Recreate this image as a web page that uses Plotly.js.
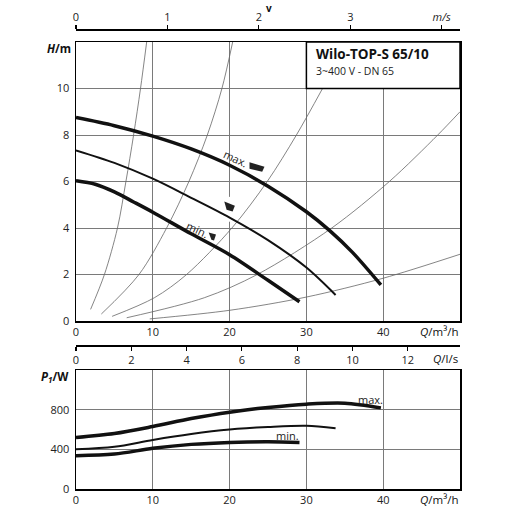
<!DOCTYPE html>
<html>
<head>
<meta charset="utf-8">
<script src="https://cdn.plot.ly/plotly-3.0.1.min.js"></script>
<style>html,body{margin:0;padding:0;background:#fff;}#chart{width:508px;height:508px;}</style>
</head>
<body>
<div id="chart"></div>
<script>
// ---- Pump curves H(Q) ----
const qMax = [0, 5, 10, 15, 20, 25, 30, 33, 36, 39.7];
const hMax = [8.75, 8.4, 7.95, 7.4, 6.7, 5.8, 4.7, 3.9, 2.95, 1.55];
const qMid = [0, 5, 10, 15, 20, 25, 30, 33.8];
const hMid = [7.34, 6.8, 6.12, 5.3, 4.45, 3.48, 2.3, 1.12];
const qMin = [0, 2.5, 5, 7.5, 10, 15, 20, 25, 29.1];
const hMin = [6.03, 5.88, 5.55, 5.12, 4.68, 3.75, 2.85, 1.75, 0.83];

// ---- System curves (thin) ----
const qSys1 = [1.9, 3.7, 5.4, 6.5, 7.5, 8.4, 9.2];
const hSys1 = [0.5, 2, 4, 6, 8, 10, 12];
const qSys2 = [3.3, 8.2, 11.8, 14.7, 17.1, 19.0, 20.4];
const hSys2 = [0.3, 2, 4, 6, 8, 10, 12];
const qSys3 = [4.7, 10.2, 14.4, 20.3, 24.9, 28.7, 32.1];
const hSys3 = [0.2, 1, 2, 4, 6, 8, 10];
const qSys4 = [6.6, 16.7, 23.6, 33.3, 40.8, 47.1, 50];
const hSys4 = [0.14, 1, 2, 4, 6, 8, 9.0];
const qSys5 = [9.6, 20, 30, 40, 50];
const hSys5 = [0.09, 0.46, 1.03, 1.84, 2.87];

// ---- Power curves P1(Q) ----
const qPMax = [0, 5, 10, 15, 20, 25, 30, 35, 39.7];
const pMax = [520, 560, 630, 710, 775, 822, 855, 865, 818];
const qPMid = [0, 5, 10, 15, 20, 25, 30, 33.8];
const pMid = [400, 425, 495, 555, 600, 625, 638, 612];
const qPMin = [0, 5, 10, 15, 20, 25, 29.1];
const pMin = [335, 352, 410, 450, 470, 476, 470];

// ---- Tick labels ----
const qTicks = [0, 10, 20, 30, 40];
const hTicks = [0, 2, 4, 6, 8, 10];
const pTicks = [0, 400, 800];
const vTicks = [0, 1, 2, 3, 4];
const vTickText = ['0', '1', '2', '3', '<i>m/s</i>'];
const lsTicks = [0, 2, 4, 6, 8, 10, 12];

// ---- Speed setting marker anchors ----
const markQ = [23.5, 20.0, 17.8];
const markH = [6.6, 4.9, 3.62];

const FONT = 'Open Sans, Noto Sans, sans-serif';
const TXT = '#222';
const GRID = '#7a7a7a';

function line(x, y, w, color, xa, ya) {
  return {x: x, y: y, mode: 'lines', type: 'scatter', xaxis: xa, yaxis: ya,
          line: {width: w, color: color, shape: 'spline', smoothing: 0.9},
          hoverinfo: 'skip', showlegend: false};
}

const traces = [
  line(qSys1, hSys1, 0.8, '#666', 'x', 'y'),
  line(qSys2, hSys2, 0.8, '#666', 'x', 'y'),
  line(qSys3, hSys3, 0.8, '#666', 'x', 'y'),
  line(qSys4, hSys4, 0.8, '#666', 'x', 'y'),
  line(qSys5, hSys5, 0.8, '#666', 'x', 'y'),
  line(qMax, hMax, 3.5, '#111', 'x', 'y'),
  line(qMid, hMid, 2, '#111', 'x', 'y'),
  line(qMin, hMin, 3.5, '#111', 'x', 'y'),
  line(qPMax, pMax, 3.5, '#111', 'x2', 'y2'),
  line(qPMid, pMid, 2, '#111', 'x2', 'y2'),
  line(qPMin, pMin, 3.5, '#111', 'x2', 'y2'),
  {x: [0], y: [-5], xaxis: 'x3', yaxis: 'y', mode: 'markers', marker: {opacity: 0}, hoverinfo: 'skip', showlegend: false},
  {x: [0], y: [-5], xaxis: 'x4', yaxis: 'y', mode: 'markers', marker: {opacity: 0}, hoverinfo: 'skip', showlegend: false}
];

const dom = [76 / 508, 460 / 508];
const tickfont = {family: FONT, size: 11, color: TXT};

const baseAxis = {
  showgrid: true, gridcolor: GRID, gridwidth: 1,
  showline: true, mirror: true, linecolor: '#000', linewidth: 1.5,
  zeroline: false, ticks: 'outside', ticklen: 3, tickcolor: 'rgba(0,0,0,0)',
  tickfont: tickfont, fixedrange: true
};

const markerPaths = [
  'M-7,5.3 L8,0.7 L5.7,-4.3 L-7,-1.3 Z',
  'M-5.3,5.7 L5.3,1.3 L3,-4.3 L-3,-2.7 Z',
  'M-4,4.3 L3.3,2.3 L1.3,-3.7 L-1.3,-3 Z'
];

const shapes = [
  {type: 'line', xref: 'x', yref: 'y', x0: 20, x1: 20, y0: 4.27, y1: 5.34,
   line: {color: '#fff', width: 3}, layer: 'between'},
  {type: 'rect', xref: 'x', yref: 'y', x0: 30, x1: 50, y0: 10, y1: 12,
   fillcolor: '#fff', line: {color: '#000', width: 1.5}, layer: 'above'}
];
markQ.forEach(function (q, i) {
  shapes.push({type: 'path', xref: 'x', yref: 'y', xsizemode: 'pixel', ysizemode: 'pixel',
    xanchor: q, yanchor: markH[i], path: markerPaths[i],
    fillcolor: '#222', line: {width: 0}, layer: 'above'});
});

const annotations = [
  {text: '<b>Wilo-TOP-S 65/10</b>', xref: 'paper', yref: 'paper', x: 314 / 508, y: 1 - 54 / 508,
   xanchor: 'left', yanchor: 'middle', showarrow: false, font: {family: FONT, size: 13.5, color: '#111'}},
  {text: '3~400 V - DN 65', xref: 'paper', yref: 'paper', x: 314 / 508, y: 1 - 71 / 508,
   xanchor: 'left', yanchor: 'middle', showarrow: false, font: {family: FONT, size: 10.5, color: TXT}},
  {text: '<b><i>H</i>/m</b>', xref: 'paper', yref: 'paper', x: 73 / 508, y: 1 - 48 / 508,
   xanchor: 'right', yanchor: 'middle', showarrow: false, font: {family: FONT, size: 11.5, color: '#111'}},
  {text: '<b><i>P<sub>1</sub></i>/W</b>', xref: 'paper', yref: 'paper', x: 71 / 508, y: 1 - 377 / 508,
   xanchor: 'right', yanchor: 'middle', showarrow: false, font: {family: FONT, size: 11.5, color: '#111'}},
  {text: '<i>Q</i>/m³/h', xref: 'paper', yref: 'paper', x: 460 / 508, y: 1 - 331 / 508,
   xanchor: 'right', yanchor: 'middle', showarrow: false, font: {family: FONT, size: 11.5, color: '#111'}},
  {text: '<i>Q</i>/m³/h', xref: 'paper', yref: 'paper', x: 460 / 508, y: 1 - 499 / 508,
   xanchor: 'right', yanchor: 'middle', showarrow: false, font: {family: FONT, size: 11.5, color: '#111'}},
  {text: '<i>Q</i>/l/s', xref: 'paper', yref: 'paper', x: 460 / 508, y: 1 - 358 / 508,
   xanchor: 'right', yanchor: 'middle', showarrow: false, font: {family: FONT, size: 11.5, color: '#111'}},
  {text: '<b>v</b>', xref: 'paper', yref: 'paper', x: 269 / 508, y: 1 - 8 / 508,
   xanchor: 'center', yanchor: 'middle', showarrow: false, font: {family: FONT, size: 10, color: '#111'}},
  {text: 'max.', xref: 'x', yref: 'y', x: 20.8, y: 6.98, textangle: 25,
   showarrow: false, font: {family: FONT, size: 11, color: TXT}},
  {text: 'min.', xref: 'x', yref: 'y', x: 15.8, y: 3.92, textangle: 25,
   showarrow: false, font: {family: FONT, size: 11, color: TXT}},
  {text: 'max.', xref: 'x2', yref: 'y2', x: 38.3, y: 905,
   showarrow: false, font: {family: FONT, size: 11, color: TXT}},
  {text: 'min.', xref: 'x2', yref: 'y2', x: 27.6, y: 536,
   showarrow: false, font: {family: FONT, size: 11, color: TXT}}
];

const layout = {
  width: 508, height: 508,
  margin: {l: 0, r: 0, t: 0, b: 0},
  paper_bgcolor: '#fff', plot_bgcolor: '#fff',
  showlegend: false,
  xaxis: Object.assign({}, baseAxis, {domain: dom, range: [0, 50], anchor: 'y', tickvals: qTicks, ticklen: 0.5}),
  yaxis: Object.assign({}, baseAxis, {domain: [1 - 321 / 508, 1 - 42 / 508], range: [0, 12], anchor: 'x', tickvals: hTicks}),
  xaxis2: Object.assign({}, baseAxis, {domain: dom, range: [0, 50], anchor: 'y2', tickvals: qTicks, ticklen: 0.5}),
  yaxis2: Object.assign({}, baseAxis, {domain: [1 - 489 / 508, 1 - 370 / 508], range: [0, 1200], anchor: 'x2', tickvals: pTicks}),
  xaxis3: {overlaying: 'x', anchor: 'free', position: 1 - 29 / 508, side: 'top',
           range: [0, 4.2], tickvals: vTicks, ticktext: vTickText,
           showgrid: false, zeroline: false, showline: true, linecolor: '#000', linewidth: 1.5,
           ticks: 'outside', ticklen: 4, tickwidth: 1.2, tickcolor: '#000', tickfont: tickfont, fixedrange: true},
  xaxis4: {overlaying: 'x', anchor: 'free', position: 1 - 345 / 508, side: 'bottom',
           range: [0, 50 / 3.6], tickvals: lsTicks,
           showgrid: false, zeroline: false, showline: true, linecolor: '#000', linewidth: 1.5,
           ticks: 'outside', ticklen: 4, tickwidth: 1.2, tickcolor: '#000', tickfont: tickfont, fixedrange: true},
  shapes: shapes,
  annotations: annotations
};

Plotly.newPlot('chart', traces, layout, {staticPlot: true, displayModeBar: false});
</script>
</body>
</html>
